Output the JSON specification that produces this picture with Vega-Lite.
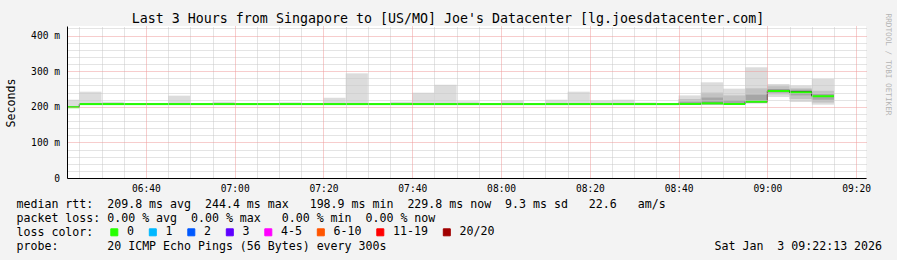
{
  "$schema": "https://vega.github.io/schema/vega-lite/v6.json",
  "width": 799,
  "height": 152,
  "autosize": {"type": "none"},
  "padding": {"left": 67, "top": 26, "right": 31, "bottom": 82},
  "background": "#f3f3f3",
  "datasets": {
    "smoke": [
      {"t": "2026-01-03T06:20:00Z", "t2": "2026-01-03T06:25:00Z", "lo": 198, "hi": 220, "band": 1},
      {"t": "2026-01-03T06:25:00Z", "t2": "2026-01-03T06:30:00Z", "lo": 205.5, "hi": 242.5, "band": 1},
      {"t": "2026-01-03T06:30:00Z", "t2": "2026-01-03T06:35:00Z", "lo": 205.5, "hi": 214.4, "band": 1},
      {"t": "2026-01-03T06:35:00Z", "t2": "2026-01-03T06:40:00Z", "lo": 205.5, "hi": 209.5, "band": 1},
      {"t": "2026-01-03T06:40:00Z", "t2": "2026-01-03T06:45:00Z", "lo": 205.5, "hi": 210.8, "band": 1},
      {"t": "2026-01-03T06:45:00Z", "t2": "2026-01-03T06:50:00Z", "lo": 205.5, "hi": 231.3, "band": 1},
      {"t": "2026-01-03T06:50:00Z", "t2": "2026-01-03T06:55:00Z", "lo": 205.5, "hi": 209, "band": 1},
      {"t": "2026-01-03T06:55:00Z", "t2": "2026-01-03T07:00:00Z", "lo": 205.5, "hi": 214.4, "band": 1},
      {"t": "2026-01-03T07:00:00Z", "t2": "2026-01-03T07:05:00Z", "lo": 205.5, "hi": 209.5, "band": 1},
      {"t": "2026-01-03T07:05:00Z", "t2": "2026-01-03T07:10:00Z", "lo": 205.5, "hi": 209, "band": 1},
      {"t": "2026-01-03T07:10:00Z", "t2": "2026-01-03T07:15:00Z", "lo": 205.5, "hi": 212.5, "band": 1},
      {"t": "2026-01-03T07:15:00Z", "t2": "2026-01-03T07:20:00Z", "lo": 205.5, "hi": 209, "band": 1},
      {"t": "2026-01-03T07:20:00Z", "t2": "2026-01-03T07:25:00Z", "lo": 205.5, "hi": 225.4, "band": 1},
      {"t": "2026-01-03T07:25:00Z", "t2": "2026-01-03T07:30:00Z", "lo": 205.5, "hi": 294, "band": 1},
      {"t": "2026-01-03T07:30:00Z", "t2": "2026-01-03T07:35:00Z", "lo": 205.5, "hi": 209, "band": 1},
      {"t": "2026-01-03T07:35:00Z", "t2": "2026-01-03T07:40:00Z", "lo": 205.5, "hi": 214.4, "band": 1},
      {"t": "2026-01-03T07:40:00Z", "t2": "2026-01-03T07:45:00Z", "lo": 205.5, "hi": 239.7, "band": 1},
      {"t": "2026-01-03T07:45:00Z", "t2": "2026-01-03T07:50:00Z", "lo": 205.5, "hi": 262, "band": 1},
      {"t": "2026-01-03T07:50:00Z", "t2": "2026-01-03T07:55:00Z", "lo": 205.5, "hi": 215.5, "band": 1},
      {"t": "2026-01-03T07:55:00Z", "t2": "2026-01-03T08:00:00Z", "lo": 205.5, "hi": 209, "band": 1},
      {"t": "2026-01-03T08:00:00Z", "t2": "2026-01-03T08:05:00Z", "lo": 205.5, "hi": 218, "band": 1},
      {"t": "2026-01-03T08:05:00Z", "t2": "2026-01-03T08:10:00Z", "lo": 205.5, "hi": 209.5, "band": 1},
      {"t": "2026-01-03T08:10:00Z", "t2": "2026-01-03T08:15:00Z", "lo": 205.5, "hi": 220, "band": 1},
      {"t": "2026-01-03T08:15:00Z", "t2": "2026-01-03T08:20:00Z", "lo": 205.5, "hi": 242.5, "band": 1},
      {"t": "2026-01-03T08:20:00Z", "t2": "2026-01-03T08:25:00Z", "lo": 205.5, "hi": 218, "band": 1},
      {"t": "2026-01-03T08:25:00Z", "t2": "2026-01-03T08:30:00Z", "lo": 205.5, "hi": 220, "band": 1},
      {"t": "2026-01-03T08:30:00Z", "t2": "2026-01-03T08:35:00Z", "lo": 205.5, "hi": 212, "band": 1},
      {"t": "2026-01-03T08:35:00Z", "t2": "2026-01-03T08:40:00Z", "lo": 205.5, "hi": 209, "band": 1},
      {"t": "2026-01-03T08:40:00Z", "t2": "2026-01-03T08:45:00Z", "lo": 205, "hi": 232, "band": 1},
      {"t": "2026-01-03T08:45:00Z", "t2": "2026-01-03T08:50:00Z", "lo": 205, "hi": 268.8, "band": 1},
      {"t": "2026-01-03T08:50:00Z", "t2": "2026-01-03T08:55:00Z", "lo": 205, "hi": 251, "band": 1},
      {"t": "2026-01-03T08:55:00Z", "t2": "2026-01-03T09:00:00Z", "lo": 209, "hi": 311, "band": 1},
      {"t": "2026-01-03T09:00:00Z", "t2": "2026-01-03T09:05:00Z", "lo": 227.6, "hi": 264, "band": 1},
      {"t": "2026-01-03T09:05:00Z", "t2": "2026-01-03T09:10:00Z", "lo": 213.5, "hi": 259.4, "band": 1},
      {"t": "2026-01-03T09:10:00Z", "t2": "2026-01-03T09:15:00Z", "lo": 206, "hi": 278.2, "band": 1},
      {"t": "2026-01-03T08:40:00Z", "t2": "2026-01-03T08:45:00Z", "lo": 206, "hi": 222, "band": 2},
      {"t": "2026-01-03T08:45:00Z", "t2": "2026-01-03T08:50:00Z", "lo": 206, "hi": 240, "band": 2},
      {"t": "2026-01-03T08:50:00Z", "t2": "2026-01-03T08:55:00Z", "lo": 206, "hi": 232, "band": 2},
      {"t": "2026-01-03T08:55:00Z", "t2": "2026-01-03T09:00:00Z", "lo": 211, "hi": 252, "band": 2},
      {"t": "2026-01-03T09:00:00Z", "t2": "2026-01-03T09:05:00Z", "lo": 235, "hi": 258, "band": 2},
      {"t": "2026-01-03T09:05:00Z", "t2": "2026-01-03T09:10:00Z", "lo": 222, "hi": 252, "band": 2},
      {"t": "2026-01-03T09:10:00Z", "t2": "2026-01-03T09:15:00Z", "lo": 212, "hi": 245, "band": 2},
      {"t": "2026-01-03T08:40:00Z", "t2": "2026-01-03T08:45:00Z", "lo": 207, "hi": 214, "band": 3},
      {"t": "2026-01-03T08:45:00Z", "t2": "2026-01-03T08:50:00Z", "lo": 207, "hi": 226, "band": 3},
      {"t": "2026-01-03T08:50:00Z", "t2": "2026-01-03T08:55:00Z", "lo": 207, "hi": 219, "band": 3},
      {"t": "2026-01-03T08:55:00Z", "t2": "2026-01-03T09:00:00Z", "lo": 212, "hi": 234, "band": 3},
      {"t": "2026-01-03T09:00:00Z", "t2": "2026-01-03T09:05:00Z", "lo": 240, "hi": 250, "band": 3},
      {"t": "2026-01-03T09:05:00Z", "t2": "2026-01-03T09:10:00Z", "lo": 232, "hi": 248, "band": 3},
      {"t": "2026-01-03T09:10:00Z", "t2": "2026-01-03T09:15:00Z", "lo": 220, "hi": 236, "band": 3},
      {"t": "2026-01-03T09:00:00Z", "t2": "2026-01-03T09:05:00Z", "lo": 243, "hi": 247.5, "band": 4},
      {"t": "2026-01-03T09:05:00Z", "t2": "2026-01-03T09:10:00Z", "lo": 240, "hi": 244.5, "band": 4}
    ],
    "median": [
      {"t": "2026-01-03T06:20:00Z", "t2": "2026-01-03T06:25:00Z", "med": 198.9, "loss": "0"},
      {"t": "2026-01-03T06:25:00Z", "t2": "2026-01-03T06:30:00Z", "med": 207.6, "loss": "0"},
      {"t": "2026-01-03T06:30:00Z", "t2": "2026-01-03T06:35:00Z", "med": 207.6, "loss": "0"},
      {"t": "2026-01-03T06:35:00Z", "t2": "2026-01-03T06:40:00Z", "med": 207.6, "loss": "0"},
      {"t": "2026-01-03T06:40:00Z", "t2": "2026-01-03T06:45:00Z", "med": 207.6, "loss": "0"},
      {"t": "2026-01-03T06:45:00Z", "t2": "2026-01-03T06:50:00Z", "med": 207.6, "loss": "0"},
      {"t": "2026-01-03T06:50:00Z", "t2": "2026-01-03T06:55:00Z", "med": 207.6, "loss": "0"},
      {"t": "2026-01-03T06:55:00Z", "t2": "2026-01-03T07:00:00Z", "med": 207.6, "loss": "0"},
      {"t": "2026-01-03T07:00:00Z", "t2": "2026-01-03T07:05:00Z", "med": 207.6, "loss": "0"},
      {"t": "2026-01-03T07:05:00Z", "t2": "2026-01-03T07:10:00Z", "med": 207.6, "loss": "0"},
      {"t": "2026-01-03T07:10:00Z", "t2": "2026-01-03T07:15:00Z", "med": 207.6, "loss": "0"},
      {"t": "2026-01-03T07:15:00Z", "t2": "2026-01-03T07:20:00Z", "med": 207.6, "loss": "0"},
      {"t": "2026-01-03T07:20:00Z", "t2": "2026-01-03T07:25:00Z", "med": 207.6, "loss": "0"},
      {"t": "2026-01-03T07:25:00Z", "t2": "2026-01-03T07:30:00Z", "med": 207.6, "loss": "0"},
      {"t": "2026-01-03T07:30:00Z", "t2": "2026-01-03T07:35:00Z", "med": 207.6, "loss": "0"},
      {"t": "2026-01-03T07:35:00Z", "t2": "2026-01-03T07:40:00Z", "med": 207.6, "loss": "0"},
      {"t": "2026-01-03T07:40:00Z", "t2": "2026-01-03T07:45:00Z", "med": 207.6, "loss": "0"},
      {"t": "2026-01-03T07:45:00Z", "t2": "2026-01-03T07:50:00Z", "med": 207.6, "loss": "0"},
      {"t": "2026-01-03T07:50:00Z", "t2": "2026-01-03T07:55:00Z", "med": 207.6, "loss": "0"},
      {"t": "2026-01-03T07:55:00Z", "t2": "2026-01-03T08:00:00Z", "med": 207.6, "loss": "0"},
      {"t": "2026-01-03T08:00:00Z", "t2": "2026-01-03T08:05:00Z", "med": 207.6, "loss": "0"},
      {"t": "2026-01-03T08:05:00Z", "t2": "2026-01-03T08:10:00Z", "med": 207.6, "loss": "0"},
      {"t": "2026-01-03T08:10:00Z", "t2": "2026-01-03T08:15:00Z", "med": 207.6, "loss": "0"},
      {"t": "2026-01-03T08:15:00Z", "t2": "2026-01-03T08:20:00Z", "med": 207.6, "loss": "0"},
      {"t": "2026-01-03T08:20:00Z", "t2": "2026-01-03T08:25:00Z", "med": 207.6, "loss": "0"},
      {"t": "2026-01-03T08:25:00Z", "t2": "2026-01-03T08:30:00Z", "med": 207.6, "loss": "0"},
      {"t": "2026-01-03T08:30:00Z", "t2": "2026-01-03T08:35:00Z", "med": 207.6, "loss": "0"},
      {"t": "2026-01-03T08:35:00Z", "t2": "2026-01-03T08:40:00Z", "med": 207.6, "loss": "0"},
      {"t": "2026-01-03T08:40:00Z", "t2": "2026-01-03T08:45:00Z", "med": 208.0, "loss": "0"},
      {"t": "2026-01-03T08:45:00Z", "t2": "2026-01-03T08:50:00Z", "med": 209.7, "loss": "0"},
      {"t": "2026-01-03T08:50:00Z", "t2": "2026-01-03T08:55:00Z", "med": 207.9, "loss": "0"},
      {"t": "2026-01-03T08:55:00Z", "t2": "2026-01-03T09:00:00Z", "med": 214.4, "loss": "0"},
      {"t": "2026-01-03T09:00:00Z", "t2": "2026-01-03T09:05:00Z", "med": 244.4, "loss": "0"},
      {"t": "2026-01-03T09:05:00Z", "t2": "2026-01-03T09:10:00Z", "med": 240.7, "loss": "0"},
      {"t": "2026-01-03T09:10:00Z", "t2": "2026-01-03T09:15:00Z", "med": 229.8, "loss": "0"}
    ]
  },
  "layer": [
    {
      "data": {"name": "smoke"},
      "mark": {"type": "rect", "clip": true},
      "encoding": {
        "x": {
          "field": "t", "type": "temporal",
          "scale": {"type": "utc", "domain": [1767421333000, 1767432133000]},
          "axis": {
            "orient": "top",
            "values": [1767421500000, 1767421800000, 1767422100000, 1767422700000, 1767423000000, 1767423300000, 1767423900000, 1767424200000, 1767424500000, 1767425100000, 1767425400000, 1767425700000, 1767426300000, 1767426600000, 1767426900000, 1767427500000, 1767427800000, 1767428100000, 1767428700000, 1767429000000, 1767429300000, 1767429900000, 1767430200000, 1767430500000, 1767431100000, 1767431400000, 1767431700000],
            "labels": false, "ticks": false, "domain": false,
            "grid": true, "gridColor": "#c8c8c8", "gridDash": [1, 1], "gridOpacity": 1, "gridWidth": 1,
            "title": "Last 3 Hours from Singapore to [US/MO] Joe's Datacenter [lg.joesdatacenter.com]",
            "titleFont": "DejaVu Sans Mono", "titleFontSize": 13.3, "titleFontWeight": "normal", "titleColor": "#000000",
            "titleX": 380.5, "titleY": -3.5, "titleAlign": "center", "titleAnchor": "middle", "titleBaseline": "alphabetic",
            "titleLimit": 2000, "titleAngle": 0,
            "zindex": 1
          }
        },
        "x2": {"field": "t2"},
        "y": {
          "field": "lo", "type": "quantitative",
          "scale": {"domain": [0, 427], "nice": false, "zero": true},
          "axis": {
            "orient": "right",
            "values": [20, 40, 60, 80, 120, 140, 160, 180, 220, 240, 260, 280, 320, 340, 360, 380, 420],
            "labels": false, "ticks": false, "domain": false,
            "grid": true, "gridColor": "#c8c8c8", "gridDash": [1, 1], "gridOpacity": 1, "gridWidth": 1,
            "title": "RRDTOOL / TOBI OETIKER",
            "titleFont": "DejaVu Sans Mono", "titleFontSize": 7.7, "titleFontWeight": "normal", "titleColor": "#b4b4b4",
            "titleAngle": 90, "titleX": 21.5, "titleY": 38, "titleAlign": "center", "titleBaseline": "middle",
            "zindex": 1
          }
        },
        "y2": {"field": "hi"},
        "fill": {
          "field": "band", "type": "ordinal",
          "scale": {"domain": [1, 2, 3, 4], "range": ["#dcdcdc", "#c2c2c2", "#a6a6a6", "#3c3c3c"]},
          "legend": null
        }
      }
    },
    {
      "data": {"name": "median"},
      "mark": {"type": "line", "interpolate": "step-after", "color": "#1e1e1e", "strokeWidth": 1, "clip": true},
      "encoding": {
        "x": {
          "field": "t", "type": "temporal",
          "axis": {
            "orient": "bottom",
            "values": [1767422400000, 1767423600000, 1767424800000, 1767426000000, 1767427200000, 1767428400000, 1767429600000, 1767430800000, 1767432000000],
            "labelExpr": "utcFormat(datum.value, '%H:%M')",
            "labelFont": "DejaVu Sans Mono", "labelFontSize": 9.6, "labelColor": "#000000",
            "labelPadding": 5, "labelFlush": false, "labelOverlap": false, "labelBound": false,
            "ticks": false, "tickSize": 0,
            "grid": true, "gridColor": "#ef9a9a", "gridDash": [1, 1], "gridOpacity": 1, "gridWidth": 1,
            "domain": true, "domainColor": "#000000", "domainWidth": 1,
            "title": [
              "median rtt:\u00a0\u00a0209.8 ms avg\u00a0\u00a0244.4 ms max\u00a0\u00a0\u00a0198.9 ms min\u00a0\u00a0229.8 ms now\u00a0\u00a09.3 ms sd\u00a0\u00a0\u00a022.6\u00a0\u00a0\u00a0am/s",
              "packet loss:\u00a00.00 % avg\u00a0\u00a00.00 % max\u00a0\u00a0\u00a00.00 % min\u00a0\u00a00.00 % now",
              "loss color:",
              "probe:\u00a0\u00a0\u00a0\u00a0\u00a0\u00a0\u00a020 ICMP Echo Pings (56 Bytes) every 300s\u00a0\u00a0\u00a0\u00a0\u00a0\u00a0\u00a0\u00a0\u00a0\u00a0\u00a0\u00a0\u00a0\u00a0\u00a0\u00a0\u00a0\u00a0\u00a0\u00a0\u00a0\u00a0\u00a0\u00a0\u00a0\u00a0\u00a0\u00a0\u00a0\u00a0\u00a0\u00a0\u00a0\u00a0\u00a0\u00a0\u00a0\u00a0\u00a0\u00a0\u00a0\u00a0\u00a0\u00a0\u00a0\u00a0\u00a0Sat Jan\u00a0\u00a03 09:22:13 2026"
            ],
            "titleFont": "DejaVu Sans Mono", "titleFontSize": 11.6, "titleFontWeight": "normal", "titleColor": "#000000",
            "titleX": -51, "titleY": 29.5, "titleAlign": "left", "titleAnchor": "start", "titleBaseline": "alphabetic",
            "titleLineHeight": 14, "titleLimit": 2000,
            "zindex": 2
          }
        },
        "y": {
          "field": "med", "type": "quantitative",
          "axis": {
            "orient": "left",
            "values": [0, 100, 200, 300, 400],
            "labelExpr": "datum.value == 0 ? '0' : datum.value + ' m'",
            "labelFont": "DejaVu Sans Mono", "labelFontSize": 9.6, "labelColor": "#000000",
            "labelPadding": 7.5, "labelOverlap": false,
            "ticks": false, "tickSize": 0,
            "grid": true, "gridColor": "#ef9a9a", "gridDash": [1, 1], "gridOpacity": 1, "gridWidth": 1,
            "domain": true, "domainColor": "#000000", "domainWidth": 1,
            "title": "Seconds",
            "titleFont": "DejaVu Sans Mono", "titleFontSize": 11.6, "titleFontWeight": "normal", "titleColor": "#000000",
            "titleAngle": 270, "titleX": -56, "titleY": 76.5, "titleAlign": "center", "titleBaseline": "middle",
            "zindex": 2
          }
        }
      }
    },
    {
      "data": {"name": "median"},
      "mark": {"type": "rule", "strokeWidth": 2, "clip": true},
      "encoding": {
        "x": {"field": "t", "type": "temporal", "axis": null},
        "x2": {"field": "t2"},
        "y": {"field": "med", "type": "quantitative", "axis": null},
        "color": {
          "field": "loss", "type": "nominal",
          "scale": {
            "domain": ["0", "1", "2", "3", "4-5", "6-10", "11-19", "20/20"],
            "range": ["#26ff00", "#00b8ff", "#0059ff", "#5e00ff", "#ff00ff", "#ff5500", "#ff0000", "#a10000"]
          },
          "legend": {
            "title": null,
            "orient": "none",
            "legendX": 41.5,
            "legendY": 200.2,
            "direction": "horizontal",
            "columns": 8,
            "symbolType": "square",
            "symbolSize": 49,
            "symbolStrokeWidth": 1,
            "symbolStrokeColor": "#000000",
            "labelFont": "DejaVu Sans Mono",
            "labelFontSize": 11.6,
            "labelColor": "#000000",
            "labelOffset": 7,
            "columnPadding": 12.5,
            "padding": 0,
            "encode": {"symbols": {"update": {"fill": {"scale": "color", "field": "value"}, "stroke": {"value": "#000000"}, "strokeWidth": {"value": 1}, "opacity": {"value": 1}, "fillOpacity": {"value": 1}}}}
          }
        }
      }
    }
  ],
  "resolve": {"axis": {"x": "independent", "y": "independent"}},
  "config": {
    "view": {"stroke": null, "fill": "#ffffff"}
  }
}
